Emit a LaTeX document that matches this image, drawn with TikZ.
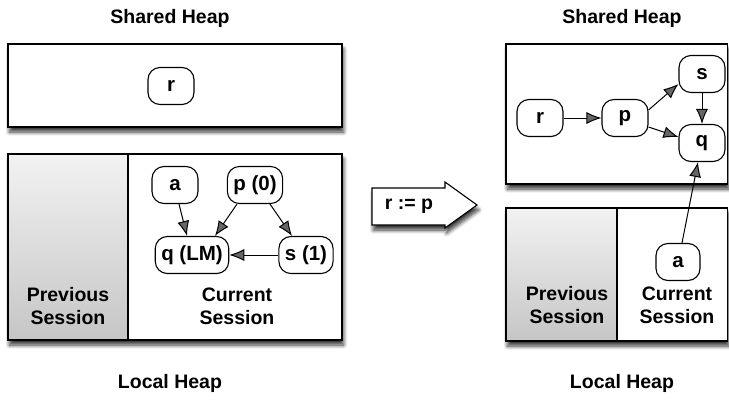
\documentclass[tikz,border=0pt]{standalone}
\usepackage{fontspec}
\setmainfont{Liberation Sans}
\usetikzlibrary{arrows.meta,shadows,shadows.blur}
\tikzset{
  txt/.style={font=\fontsize{19.5}{23}\selectfont\bfseries, align=center, inner sep=0pt},
  shad/.style={blur shadow={shadow xshift=1.5pt, shadow yshift=-5pt, shadow blur steps=8, shadow blur radius=4pt, shadow opacity=80}},
  heap/.style={draw, line width=1.4pt, fill=white, shad},
  obj/.style={draw, line width=1.1pt, rounded corners=12pt, fill=white, font=\fontsize{20.5}{23}\selectfont\bfseries, minimum height=37pt, minimum width=46pt, inner xsep=6pt},
  ref/.style={-{Latex[length=15pt,width=12pt]}, line width=1pt},
}
\begin{document}
\begin{tikzpicture}[x=1pt,y=1pt]
\useasboundingbox (0,0) rectangle (729,-402);
% ---------- left ----------
\node[txt] (tl) at (170,-18) {Shared Heap};
\node[txt] (bl) at (170,-383) {Local Heap};
\path[heap] (8,-44) rectangle (342,-127);
\path[heap] (8,-154) rectangle (342,-340);
\shade[top color=gray!10, bottom color=gray!45] (8,-154) rectangle (128,-340);
\draw[line width=1.4pt] (8,-154) rectangle (342,-340);
\draw[line width=1.2pt] (128,-154) -- (128,-340);
\node[obj] (rL) at (171,-86) {r};
\node[txt] (prevL) at (68,-306) {Previous\\Session};
\node[txt] (curL) at (237,-306) {Current\\Session};
\node[obj] (aL) at (175,-185) {a};
\node[obj] (pL) at (255,-185) {p (0)};
\node[obj] (qL) at (192,-255) {q (LM)};
\node[obj] (sL) at (306,-255) {s (1)};
\draw[ref] ([xshift=4pt]aL.south) -- ([xshift=-5pt]qL.north);
\draw[ref] ([xshift=-18pt]pL.south) -- ([xshift=23pt]qL.north);
\draw[ref] ([xshift=15pt]pL.south) -- ([xshift=-14pt]sL.north);
\draw[ref] (sL.west) -- (qL.east);
% ---------- middle arrow ----------
\path[draw, line width=1.1pt, fill=white, shad]
  (372,-188) -- (445,-188) -- (445,-182) -- (477,-205) -- (445,-228) -- (445,-225) -- (372,-225) -- cycle;
\node[txt] (asg) at (409,-206) {r := p};
% ---------- right ----------
\node[txt] (tr) at (622,-18) {Shared Heap};
\node[txt] (br) at (622,-383) {Local Heap};
\path[heap] (506,-44) rectangle (727.5,-184);
\path[heap] (506,-208) rectangle (727.5,-341);
\shade[top color=gray!10, bottom color=gray!45] (506,-208) rectangle (617,-341);
\draw[line width=1.4pt] (506,-208) rectangle (727.5,-341);
\draw[line width=1.2pt] (617,-208) -- (617,-341);
\node[obj] (rR) at (540,-118) {r};
\node[obj] (pR) at (625,-118) {p};
\node[obj] (sR) at (702,-74) {s};
\node[obj] (qR) at (702,-143) {q};
\node[obj, minimum width=44pt] (aR) at (678,-262) {a};
\node[txt] (prevR) at (567,-305) {Previous\\Session};
\node[txt] (curR) at (677,-305) {Current\\Session};
\draw[ref] (rR.east) -- (pR.west);
\draw[ref] ([yshift=8pt]pR.east) -- ([yshift=-10pt]sR.west);
\draw[ref] ([yshift=-9pt]pR.east) -- ([yshift=6pt]qR.west);
\draw[ref] (sR.south) -- (qR.north);
\draw[ref] ([xshift=4pt]aR.north) -- ([xshift=-4pt]qR.south);
\end{tikzpicture}
\end{document}
